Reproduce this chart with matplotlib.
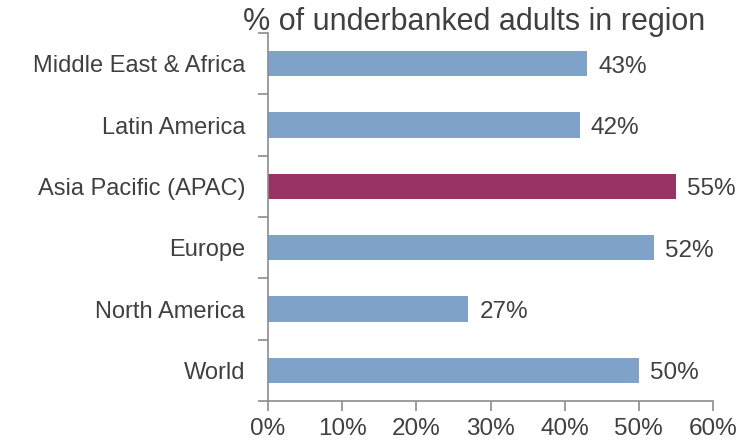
import matplotlib.pyplot as plt
import numpy as np

regions = ['Middle East & Africa', 'Latin America', 'Asia Pacific (APAC)',
           'Europe', 'North America', 'World']
pct = [43, 42, 55, 52, 27, 50]
highlight = 'Asia Pacific (APAC)'

blue = '#7FA3C8'
maroon = '#993366'
txt = '#404040'
grey = '#8C8C8C'

plt.rcParams['font.family'] = ['Liberation Sans', 'DejaVu Sans']

fig = plt.figure(figsize=(7.49, 4.44), dpi=100)
ax = fig.add_axes([268/749, 1 - 401/444, (713-268)/749, (401-33)/444])

y = np.arange(len(regions))[::-1]
colors = [maroon if r == highlight else blue for r in regions]
ax.barh(y, pct, height=0.41, color=colors)

for yi, v in zip(y, pct):
    ax.text(v + 1.5, yi - 0.05, f'{v}%', va='center', ha='left', fontsize=17.5, color=txt)

ax.set_xlim(0, 60)
ax.set_ylim(-0.5, len(regions) - 0.5)
ax.set_xticks(range(0, 61, 10))
ax.set_xticklabels([f'{t}%' for t in range(0, 61, 10)])
ax.set_yticks(y)
ax.set_yticklabels(regions)
ax.set_yticks(np.arange(-0.5, len(regions), 1), minor=True)

ax.tick_params(axis='y', which='major', length=0, pad=16.5, labelsize=17, labelcolor=txt)
ax.tick_params(axis='y', which='minor', length=7, color=grey, width=1.2)
ax.tick_params(axis='x', length=7, color=grey, width=1.2, pad=5, labelsize=17.5, labelcolor=txt)

for s in ['top', 'right']:
    ax.spines[s].set_visible(False)
for s in ['left', 'bottom']:
    ax.spines[s].set_color(grey)
    ax.spines[s].set_linewidth(1.2)

fig.text(474/749, 1 - 22/444, '% of underbanked adults in region', ha='center', va='center',
         fontsize=22, color=txt)

fig.savefig('out.png', dpi=100)
